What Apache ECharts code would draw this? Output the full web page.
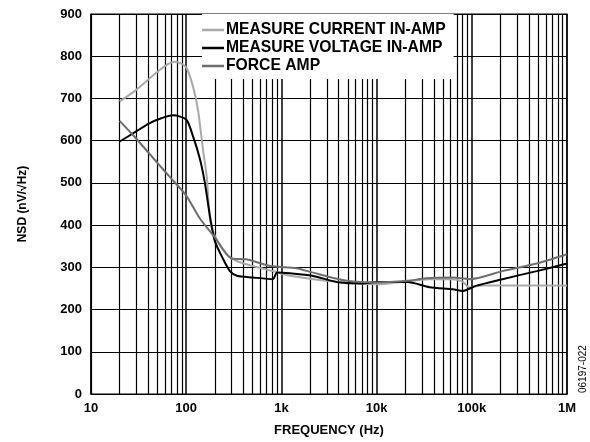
<!DOCTYPE html>
<html>
<head>
<meta charset="utf-8">
<script src="https://cdn.jsdelivr.net/npm/echarts@6/dist/echarts.min.js"></script>
<style>html,body{margin:0;padding:0;background:#fff}#c{width:590px;height:442px}</style>
</head>
<body>
<div id="c"></div>
<script>
const seriesNames = ['MEASURE CURRENT IN-AMP', 'MEASURE VOLTAGE IN-AMP', 'FORCE AMP'];
const yTicks = [0, 100, 200, 300, 400, 500, 600, 700, 800, 900];
const xTickLabels = {10: '10', 100: '100', 1000: '1k', 10000: '10k', 100000: '100k', 1000000: '1M'};

const measureCurrent = [
  [20, 693], [29, 718], [40, 745], [53, 768], [65, 782], [76, 787], [90, 782], [101, 772],
  [118, 728], [133, 673], [150, 579], [164, 516], [178, 413], [200, 374], [265, 331],
  [340, 315], [500, 303], [815, 291], [1230, 280], [4100, 265], [10000, 260], [36000, 272],
  [63000, 272], [80000, 266], [95000, 252], [120000, 257], [1000000, 257]
];
const measureVoltage = [
  [20, 598], [29, 620], [40, 640], [53, 652], [73, 660], [100, 650], [118, 610], [140, 555],
  [157, 500], [178, 420], [200, 362], [245, 319], [288, 291], [340, 280], [500, 276],
  [815, 272], [900, 288], [1230, 286], [2100, 280], [4100, 264], [7200, 262], [10000, 265],
  [21000, 265], [36000, 253], [63000, 248], [80000, 244], [110000, 256], [210000, 272],
  [480000, 291], [1000000, 309]
];
const forceAmp = [
  [20, 647], [29, 608], [50, 547], [68, 513], [100, 470], [140, 415], [200, 371], [300, 321],
  [430, 319], [760, 303], [1440, 298], [2100, 288], [4900, 268], [10000, 264], [21000, 268],
  [33000, 274], [63000, 276], [95000, 272], [210000, 291], [480000, 309], [1000000, 331]
];
const minorFreqs = [];
[10, 100, 1000, 10000, 100000].forEach(d => { for (let m = 2; m <= 9; m++) minorFreqs.push(d * m); });

const font = 'Liberation Sans, Arial, sans-serif';
const chart = echarts.init(document.getElementById('c'));
const lineSeries = (name, data, color) => ({
  name, type: 'line', data, showSymbol: false, symbol: 'none', smooth: 0.25,
  lineStyle: {color, width: 2}, itemStyle: {color}, z: 3
});
chart.setOption({
  animation: false,
  grid: {left: 91, right: 23, top: 14, bottom: 47, show: true, borderColor: '#000', borderWidth: 1.2, backgroundColor: '#fff'},
  legend: {
    orient: 'vertical', left: 202, top: 14, itemGap: 2, itemWidth: 22, itemHeight: 2.5, icon: 'rect',
    backgroundColor: '#fff', padding: [8, 8, 5, 0], z: 20,
    textStyle: {fontFamily: font, fontWeight: 'bold', fontSize: 15.7, lineHeight: 16, color: '#000', padding: [0, 0, 0, -3]},
    data: seriesNames
  },
  xAxis: {
    type: 'log', logBase: 10, min: 10, max: 1000000,
    name: 'FREQUENCY (Hz)', nameLocation: 'middle', nameGap: 30,
    nameTextStyle: {fontFamily: font, fontWeight: 'bold', fontSize: 13, color: '#000'},
    axisLine: {lineStyle: {color: '#000', width: 1.2}},
    axisTick: {show: false},
    axisLabel: {fontFamily: font, fontWeight: 'bold', fontSize: 13, color: '#000', margin: 8,
      formatter: v => xTickLabels[Math.round(v)] || ''},
    splitLine: {show: true, lineStyle: {color: '#000', width: 1.5}}
  },
  yAxis: {
    type: 'value', min: yTicks[0], max: yTicks[yTicks.length - 1], interval: 100,
    name: 'NSD (nV/√Hz)', nameLocation: 'middle', nameGap: 62,
    nameTextStyle: {fontFamily: font, fontWeight: 'bold', fontSize: 12, color: '#000'},
    axisLine: {show: true, lineStyle: {color: '#000', width: 1.2}},
    axisTick: {show: false},
    axisLabel: {fontFamily: font, fontWeight: 'bold', fontSize: 13, color: '#000', margin: 9},
    splitLine: {show: true, lineStyle: {color: '#000', width: 1.2}}
  },
  series: [
    {type: 'line', data: [], silent: true, z: 1,
      markLine: {silent: true, symbol: 'none', label: {show: false}, animation: false, z: 1,
        lineStyle: {color: '#000', type: 'solid', width: 1.2},
        emphasis: {disabled: true},
        data: minorFreqs.map(f => ({xAxis: f}))}},
    lineSeries(seriesNames[0], measureCurrent, '#a9a9a9'),
    lineSeries(seriesNames[1], measureVoltage, '#000000'),
    lineSeries(seriesNames[2], forceAmp, '#6e6e6e')
  ],
  graphic: [{
    type: 'text', x: 583, y: 393, rotation: Math.PI / 2,
    style: {text: '06197-022', font: '10px ' + font, fill: '#000', textAlign: 'left', textVerticalAlign: 'middle'}
  }]
});
</script>
</body>
</html>
